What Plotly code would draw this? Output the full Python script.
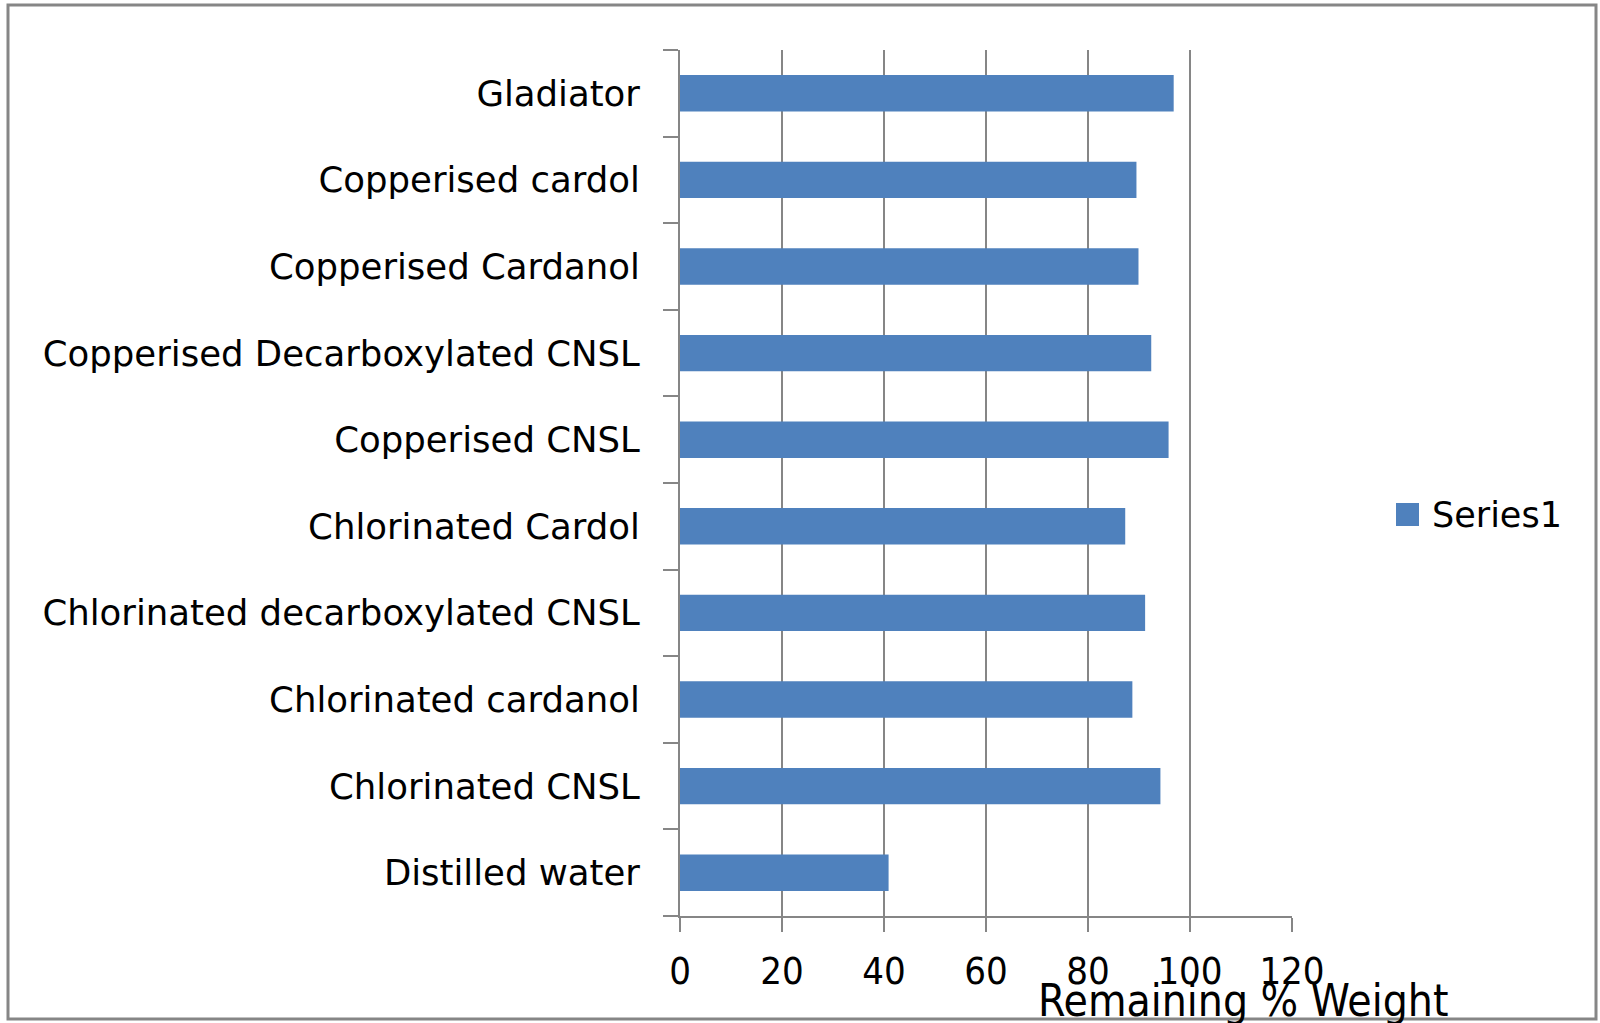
import plotly.graph_objects as go

# Remaining weight after exposure, listed bottom-to-top as drawn
categories = [
    "Distilled water",
    "Chlorinated CNSL",
    "Chlorinated cardanol",
    "Chlorinated decarboxylated CNSL",
    "Chlorinated Cardol",
    "Copperised CNSL",
    "Copperised Decarboxylated CNSL",
    "Copperised Cardanol",
    "Copperised cardol",
    "Gladiator",
]
remaining_weight = [40.9, 94.2, 88.7, 91.2, 87.3, 95.8, 92.4, 89.9, 89.5, 96.8]
x_ticks = [0, 20, 40, 60, 80, 100, 120]
series_name = "Series1"

BAR = "#4F81BD"
GRID = "#868686"
LABEL_FONT = "'DejaVu Sans', Verdana, sans-serif"
NARROW_FONT = "'Liberation Sans Narrow', 'DejaVu Sans Condensed', sans-serif"

# plot area in pixels
L, R, T, B = 680, 1292, 50, 916
PW, PH = R - L, B - T


def px(x):
    return (x - L) / PW


def py(y):
    return (B - y) / PH


fig = go.Figure()
fig.add_trace(go.Bar(
    y=categories,
    x=remaining_weight,
    orientation="h",
    name=series_name,
    marker=dict(color=BAR, line=dict(width=0)),
    width=0.42,
    showlegend=False,
))

fig.update_layout(
    width=1600,
    height=1023,
    margin=dict(l=L, r=1600 - R, t=T, b=1023 - B),
    paper_bgcolor="white",
    plot_bgcolor="white",
    font=dict(family=LABEL_FONT, color="#000000", size=34),
    showlegend=False,
    xaxis=dict(
        range=[0, 120],
        tickvals=x_ticks,
        ticktext=[str(v) for v in x_ticks],
        showgrid=True,
        gridcolor=GRID,
        gridwidth=2,
        zeroline=False,
        showline=True,
        linecolor=GRID,
        linewidth=2,
        ticks="outside",
        ticklen=14,
        tickwidth=2,
        tickcolor=GRID,
        tickfont=dict(size=38, family=NARROW_FONT),
        ticklabelstandoff=6,
    ),
    yaxis=dict(
        type="category",
        categoryorder="array",
        categoryarray=categories,
        showgrid=False,
        showline=True,
        linecolor=GRID,
        linewidth=2,
        ticks="outside",
        tickson="boundaries",
        ticklen=15,
        tickwidth=2,
        tickcolor=GRID,
        tickfont=dict(size=35.5, family=LABEL_FONT),
        ticklabelstandoff=31,
    ),
    shapes=[
        # chart frame
        dict(type="rect", xref="paper", yref="paper",
             x0=px(8), x1=px(1596), y0=py(1019), y1=py(5),
             line=dict(color=GRID, width=3), fillcolor="rgba(0,0,0,0)"),
        # legend key
        dict(type="rect", xref="paper", yref="paper",
             x0=px(1396), x1=px(1419), y0=py(526), y1=py(503),
             line=dict(width=0), fillcolor=BAR),
    ],
    annotations=[
        dict(text=series_name, xref="paper", yref="paper",
             x=px(1430), y=py(515), xanchor="left", yanchor="middle",
             showarrow=False, font=dict(size=35, family=LABEL_FONT, color="#000000")),
        dict(text="Remaining % Weight", xref="paper", yref="paper",
             x=px(1243), y=py(1000),
             xanchor="center", yanchor="middle", showarrow=False,
             font=dict(size=44, family=NARROW_FONT, color="#000000")),
    ],
)

fig.write_html("out.html")
